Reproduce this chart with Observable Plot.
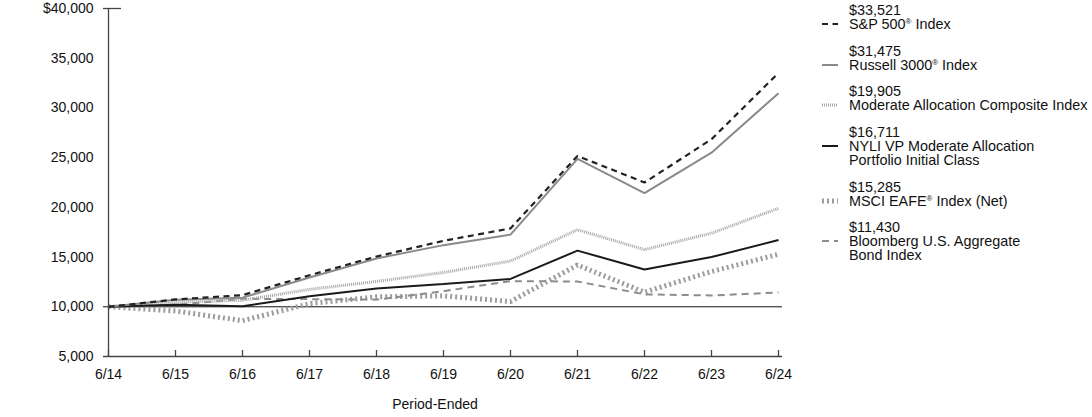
<!DOCTYPE html>
<html>
<head>
<meta charset="utf-8">
<script src="https://cdn.jsdelivr.net/npm/d3@7"></script>
<script src="https://cdn.jsdelivr.net/npm/@observablehq/plot@0.6"></script>
<style>
  body { margin: 0; background: #fff; }
  #wrap { position: relative; width: 1092px; height: 417px; font-family: "Liberation Sans", Arial, sans-serif; color: #111; }
  #legend { position: absolute; left: 820px; top: 3px; font-size: 14.4px; line-height: 14px; }
  .item { display: flex; flex-direction: column; margin-bottom: 12.7px; }
  .row { display: flex; align-items: flex-start; }
  .sym { width: 29px; height: 14px; flex: none; }
  sup { font-size: 8px; vertical-align: 5px; line-height: 0; }
</style>
</head>
<body>
<div id="wrap"><div id="chart"></div><div id="legend"></div></div>
<script>
const periods = ["6/14","6/15","6/16","6/17","6/18","6/19","6/20","6/21","6/22","6/23","6/24"];
const sp500     = [10000, 10740, 11170, 13170, 15060, 16630, 17880, 25170, 22500, 26850, 33521];
const russell   = [10000, 10710, 10920, 12940, 14860, 16200, 17260, 24880, 21430, 25500, 31475];
const moderate  = [10000, 10450, 10650, 11750, 12550, 13450, 14600, 17750, 15750, 17400, 19905];
const nyli      = [10000, 10200, 10050, 11050, 11850, 12300, 12800, 15650, 13750, 15000, 16711];
const eafe      = [10000,  9580,  8600, 10320, 11000, 11100, 10530, 14200, 11470, 13550, 15285];
const bloomberg = [10000, 10190, 10800, 10770, 10720, 11570, 12580, 12540, 11250, 11140, 11430];
const yTicks = [5000, 10000, 15000, 20000, 25000, 30000, 35000, 40000];
const yTickLabels = ["5,000","10,000","15,000","20,000","25,000","30,000","35,000","$40,000"];
const endLabels = ["$33,521","$31,475","$19,905","$16,711","$15,285","$11,430"];
const names = [
  ["S&P 500<sup>®</sup> Index"],
  ["Russell 3000<sup>®</sup> Index"],
  ["Moderate Allocation Composite Index"],
  ["NYLI VP Moderate Allocation", "Portfolio Initial Class"],
  ["MSCI EAFE<sup>®</sup> Index (Net)"],
  ["Bloomberg U.S. Aggregate", "Bond Index"]
];
const seriesValues = [sp500, russell, moderate, nyli, eafe, bloomberg];

const styles = [
  {stroke: "#222", strokeWidth: 2.2, dash: "6,4.5"},
  {stroke: "#8a8a8a", strokeWidth: 2, dash: null},
  {stroke: "#a6a6a6", strokeWidth: 3, dash: "1,1"},
  {stroke: "#1a1a1a", strokeWidth: 2, dash: null},
  {stroke: "#9c9c9c", strokeWidth: 5, dash: "2,3"},
  {stroke: "#8c8c8c", strokeWidth: 2, dash: "7,5"}
];
const drawOrder = [4, 5, 2, 3, 1, 0];

const rows = seriesValues.map(vals => vals.map((v, i) => ({period: periods[i], value: v})));

const marks = [
  Plot.ruleY([10000], {stroke: "#111", strokeWidth: 1}),
  ...drawOrder.map(k => Plot.line(rows[k], {
    x: "period", y: "value",
    stroke: styles[k].stroke, strokeWidth: styles[k].strokeWidth,
    strokeDasharray: styles[k].dash,
    strokeLinecap: "butt", strokeLinejoin: "miter"
  })),
  Plot.ruleX([periods[0]], {stroke: "#444", strokeWidth: 1.3}),
  Plot.ruleY([yTicks[0]], {stroke: "#444", strokeWidth: 1.3}),
  Plot.axisY({ticks: yTicks, tickSize: 0, tickPadding: 10, tickFormat: d => yTickLabels[yTicks.indexOf(d)], label: null, fill: "#111"}),
  Plot.axisY({ticks: [yTicks[yTicks.length - 1]], tickSize: -18, tickFormat: () => "", label: null, stroke: "#444", strokeWidth: 1.3}),
  Plot.axisX({tickSize: -6, tickPadding: 19, tickFormat: d => d, label: null, stroke: "#444", strokeWidth: 1.3, fill: "#111"}),
  Plot.text(["Period-Ended"], {frameAnchor: "bottom", dy: 52, dx: -8, text: d => d, fill: "#111", fontSize: 14})
];

const chart = Plot.plot({
  width: 1092, height: 417,
  marginLeft: 103, marginRight: 310, marginTop: 8, marginBottom: 61,
  style: {fontFamily: "'Liberation Sans', Arial, sans-serif", fontSize: "14px", color: "#111", background: "#fff"},
  x: {type: "point", domain: periods, padding: 0},
  y: {domain: [5000, 40000]},
  marks
});
document.getElementById("chart").appendChild(chart);

const legend = document.getElementById("legend");
seriesValues.forEach((_, k) => {
  const s = styles[k];
  const item = document.createElement("div");
  item.className = "item";
  const v = document.createElement("div");
  v.className = "row";
  v.innerHTML = `<span class="sym"></span><span>${endLabels[k]}</span>`;
  item.appendChild(v);
  names[k].forEach((line, j) => {
    const r = document.createElement("div");
    r.className = "row";
    const sym = j === 0
      ? `<svg class="sym" viewBox="0 0 29 14"><line x1="2" x2="18" y1="7" y2="7" stroke="${s.stroke}" stroke-width="${s.strokeWidth}" ${s.dash ? `stroke-dasharray="${s.dash}"` : ""}/></svg>`
      : `<span class="sym"></span>`;
    r.innerHTML = sym + `<span>${line}</span>`;
    item.appendChild(r);
  });
  legend.appendChild(item);
});
</script>
</body>
</html>
